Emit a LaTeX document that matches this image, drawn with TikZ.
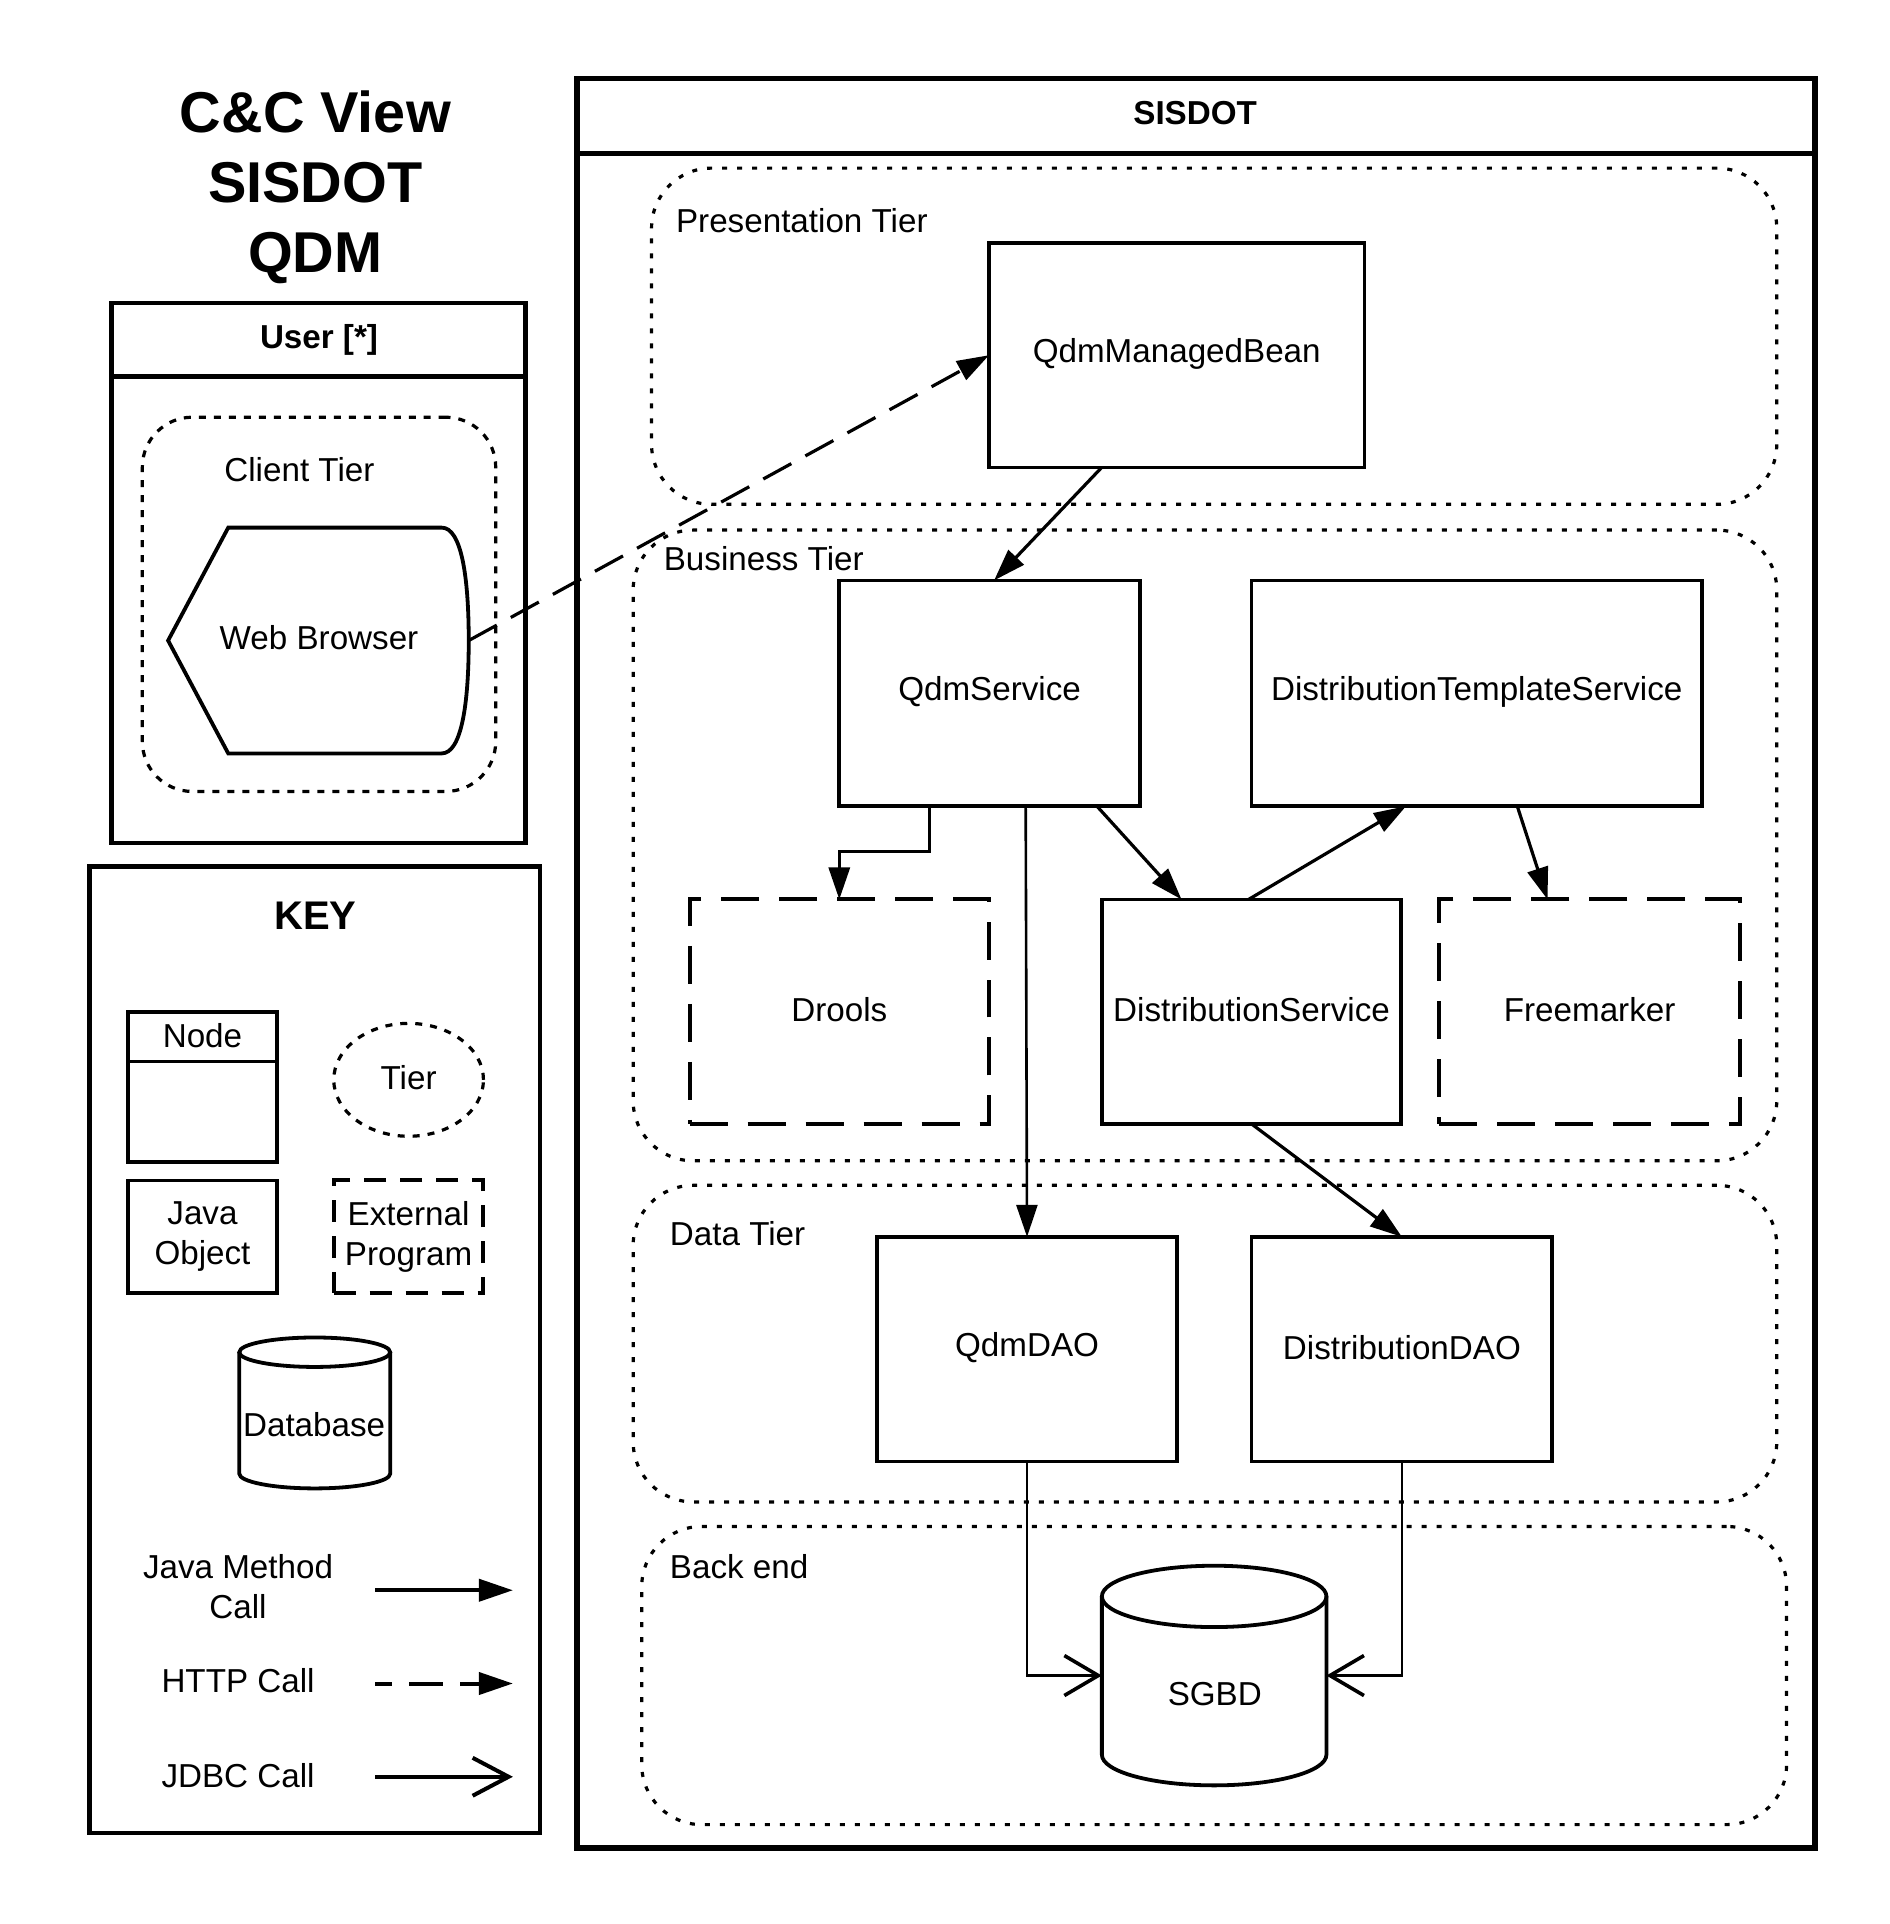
\documentclass[tikz,border=0pt]{standalone}
\usepackage{fontspec}
\setmainfont{Liberation Sans}
\usetikzlibrary{arrows.meta,calc,fit}
\begin{document}
\begin{tikzpicture}[x=0.6137pt,y=0.6137pt,
  every node/.style={font=\fontsize{16.6}{20}\selectfont, inner sep=0pt, outer sep=0pt, align=center},
  obj/.style={draw, line width=1.9pt},
  outerbox/.style={draw, line width=2.4pt},
  ext/.style={draw, line width=2pt, dash pattern=on 19pt off 10pt},
  tier/.style={draw, line width=1.6pt, dash pattern=on 2.5pt off 5pt, rounded corners=30pt},
  ctier/.style={draw, line width=1.6pt, dash pattern=on 3.5pt off 4pt, rounded corners=25pt},
  call/.style={line width=1.6pt, -{Triangle[length=16pt,width=10.5pt]}},
  http/.style={line width=1.6pt, dash pattern=on 16pt off 8pt, -{Triangle[length=16pt,width=10.5pt]}},
  jdbc/.style={line width=1.2pt, -{Straight Barb[length=17pt,width=20pt,line width=1.8pt]}},
  tierlabel/.style={anchor=west},
  boldtxt/.style={font=\bfseries\fontsize{16.6}{20}\selectfont},
  txt/.style={label={[anchor=base,yshift=0.9pt]center:#1}},
]
\fill[white] (0,0) rectangle (1540,-1568);
\path[use as bounding box] (0,0) rectangle (1540,-1568);

% Title
\node[font=\bfseries\fontsize{28.8}{35}\selectfont] (title) at (257,-153) {C\&C View\\SISDOT\\QDM};

% User box
\node[outerbox, fit={(91,-247) (428,-687)}] (user) {};
\draw[line width=2.4pt] (user.west |- 0,-307) -- (user.east |- 0,-307);
\node[boldtxt] (usertitle) at (260,-277) {User [*]};
\node[ctier, fit={(116,-340) (404,-645)}] (clienttier) {};
\node (clientlabel) at (244,-383) {Client Tier};
\draw[obj] (186,-430) -- (360,-430) .. controls (376,-430) and (382,-470) .. (382,-522)
  .. controls (382,-574) and (376,-614) .. (360,-614) -- (186,-614) -- (137,-522) -- cycle;
\node (wb) at (260,-520) {Web Browser};
\coordinate (wbr) at (382,-522);

% KEY
\node[draw, line width=2.2pt, fit={(73,-706) (440,-1494)}] (key) {};
\node[font=\bfseries\fontsize{20}{24}\selectfont] (keytitle) at (257,-746) {KEY};
\node[obj, fit={(104,-825) (226,-947)}] (knode) {};
\draw[line width=1.9pt] (104,-865) -- (226,-865);
\node (knodelabel) at (165,-844) {Node};
\draw[line width=1.6pt, dash pattern=on 3.5pt off 4pt] (333,-880) ellipse [x radius=61, y radius=46];
\node (ktier) at (333,-878) {Tier};
\node[obj, fit={(104,-962) (226,-1054)}, label={center:Java\\Object}] (kjava) {};
\node[draw, line width=2pt, dash pattern=on 11pt off 7pt, fit={(272,-962) (394,-1054)}, label={center:External\\Program}] (kext) {};
\draw[line width=1.9pt] (256.5,-1102) ellipse [x radius=61.5, y radius=12];
\draw[line width=1.9pt] (195,-1102) -- (195,-1201) arc[start angle=180,end angle=360,x radius=61.5,y radius=12] -- (318,-1102);
\node (kdb) at (256,-1161) {Database};
\node (kjm) at (194,-1293) {Java Method\\Call};
\node (khttp) at (194,-1370) {HTTP Call};
\node (kjdbc) at (194,-1447) {JDBC Call};
\coordinate (k1a) at (306,-1296); \coordinate (k1b) at (418,-1296);
\coordinate (k2a) at (306,-1372); \coordinate (k2b) at (418,-1372);
\coordinate (k3a) at (306,-1448); \coordinate (k3b) at (418,-1448);
\draw[call, line width=2pt, -{Triangle[length=17pt,width=11pt]}] (k1a) -- (k1b);
\draw[line width=2pt, dash pattern=on 17pt off 8.5pt, dash phase=8.5pt, -{Triangle[length=17pt,width=11pt]}] (k2a) -- (k2b);
\draw[line width=2pt, -{Straight Barb[length=18pt,width=19pt,line width=2pt]}] (k3a) -- (k3b);

% SISDOT
\node[outerbox, line width=2.8pt, fit={(470,-64) (1479,-1506)}] (sisdot) {};
\draw[line width=2.8pt] (470,-125) -- (1479,-125);
\node[boldtxt] (sisdottitle) at (974,-92) {SISDOT};

% Tiers
\node[tier, fit={(531,-137) (1448,-411)}] (prestier) {};
\node[tierlabel] (preslabel) at (551,-180) {Presentation Tier};
\node[tier, fit={(516,-432) (1448,-946)}] (bustier) {};
\node[tierlabel] (buslabel) at (541,-455) {Business Tier};
\node[tier, fit={(516,-966) (1448,-1224)}] (datatier) {};
\node[tierlabel] (datalabel) at (546,-1005) {Data Tier};
\node[tier, fit={(523,-1244) (1456,-1487)}] (backtier) {};
\node[tierlabel] (backlabel) at (546,-1277) {Back end};

% Components
\node[obj, fit={(806,-198) (1112,-381)}, txt=QdmManagedBean] (qmb) {};
\node[obj, fit={(684,-473) (929,-657)}, txt=QdmService] (qs) {};
\node[obj, fit={(1020,-473) (1387,-657)}, txt=DistributionTemplateService] (dts) {};
\node[ext, fit={(562,-733) (806,-916)}, txt=Drools] (drools) {};
\node[obj, fit={(898,-733) (1142,-916)}, txt=DistributionService] (ds) {};
\node[ext, fit={(1173,-733) (1418,-916)}, txt=Freemarker] (fm) {};
\node[obj, fit={(715,-1008) (959,-1191)}, txt=QdmDAO] (qdao) {};
\node[obj, fit={(1020,-1008) (1265,-1191)}, txt=DistributionDAO] (ddao) {};

% SGBD cylinder
\node[fit={(898,-1276) (1081,-1455)}] (sgbd) {};
\draw[line width=1.9pt] (989.5,-1301) ellipse [x radius=91.5, y radius=25];
\draw[line width=1.9pt] (898,-1301) -- (898,-1430) arc[start angle=180,end angle=360,x radius=91.5,y radius=25] -- (1081,-1301);
\node (sgbdlabel) at (990,-1381) {SGBD};

% Connectors
\draw[http] (wbr) -- (qmb.west);
\draw[call] ($(qmb.south west)!0.30!(qmb.south east)$) -- ($(qs.north west)!0.515!(qs.north east)$);
\draw[call] ($(qs.south west)!0.30!(qs.south east)$) -- ++(0,-37) -| (drools.north);
\draw[call, line width=1.3pt] ($(qs.south west)!0.62!(qs.south east)$) -- (qdao.north);
\draw[call] ($(qs.south west)!0.857!(qs.south east)$) -- ($(ds.north west)!0.266!(ds.north east)$);
\draw[call] ($(ds.north west)!0.49!(ds.north east)$) -- ($(dts.south west)!0.343!(dts.south east)$);
\draw[call] ($(dts.south west)!0.59!(dts.south east)$) -- ($(fm.north west)!0.36!(fm.north east)$);
\draw[call] (ds.south) -- (ddao.north);
\draw[jdbc] (qdao.south) |- (sgbd.west);
\draw[jdbc] (ddao.south) |- (sgbd.east);
\end{tikzpicture}
\end{document}
